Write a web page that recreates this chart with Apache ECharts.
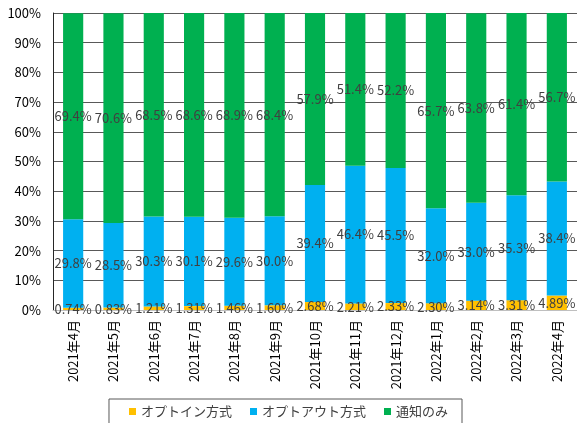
<!DOCTYPE html>
<html>
<head>
<meta charset="utf-8">
<script src="https://cdn.jsdelivr.net/npm/echarts@6/dist/echarts.min.js"></script>
<style>
  html, body { margin: 0; padding: 0; background: #fff; }
  #chart { width: 577px; height: 423px; }
</style>
</head>
<body>
<div id="chart"></div>
<script>
var months = ["2021年4月", "2021年5月", "2021年6月", "2021年7月", "2021年8月", "2021年9月",
  "2021年10月", "2021年11月", "2021年12月", "2022年1月", "2022年2月", "2022年3月", "2022年4月"];
var optIn = [0.74, 0.83, 1.21, 1.31, 1.46, 1.60, 2.68, 2.21, 2.33, 2.30, 3.14, 3.31, 4.89];
var optOut = [29.8, 28.5, 30.3, 30.1, 29.6, 30.0, 39.4, 46.4, 45.5, 32.0, 33.0, 35.3, 38.4];
var notifyOnly = [69.4, 70.6, 68.5, 68.6, 68.9, 68.4, 57.9, 51.4, 52.2, 65.7, 63.8, 61.4, 56.7];

var font = '"Noto Sans CJK JP", sans-serif';
var chart = echarts.init(document.getElementById("chart"), null, { renderer: "canvas" });

function barSeries(name, data, color, digits) {
  return {
    name: name,
    type: "bar",
    stack: "total",
    data: data,
    barWidth: "50%",
    itemStyle: { color: color },
    label: {
      show: true,
      position: "inside",
      color: "#404040",
      fontSize: 13,
      fontFamily: font,
      formatter: function (p) {
        return p.value.toFixed(digits) + "%";
      }
    }
  };
}

chart.setOption({
  animation: false,
  grid: { left: 53, top: 13, right: 0, bottom: 113 },
  legend: {
    top: 399,
    left: "center",
    padding: [6, 14, 20, 20],
    borderColor: "#595959",
    borderWidth: 1,
    itemGap: 18,
    itemWidth: 7,
    itemHeight: 7,
    icon: "rect",
    textStyle: { color: "#404040", fontSize: 13, fontFamily: font },
    data: ["オプトイン方式", "オプトアウト方式", "通知のみ"]
  },
  xAxis: {
    type: "category",
    data: months,
    axisLine: { lineStyle: { color: "#bfbfbf" } },
    axisTick: { show: false },
    axisLabel: { rotate: 90, color: "#000", fontSize: 13, fontFamily: font, margin: 10, interval: 0 }
  },
  yAxis: {
    type: "value",
    min: 0,
    max: 100,
    interval: 10,
    axisLine: { show: true, lineStyle: { color: "#262626" } },
    axisTick: { show: false },
    axisLabel: { formatter: "{value}%", color: "#000", fontSize: 13, fontFamily: font, margin: 12 },
    splitLine: { lineStyle: { color: "#595959" } }
  },
  series: [
    barSeries("オプトイン方式", optIn, "#ffc000", 2),
    barSeries("オプトアウト方式", optOut, "#00b0f0", 1),
    barSeries("通知のみ", notifyOnly, "#00b050", 1)
  ]
});
</script>
</body>
</html>
